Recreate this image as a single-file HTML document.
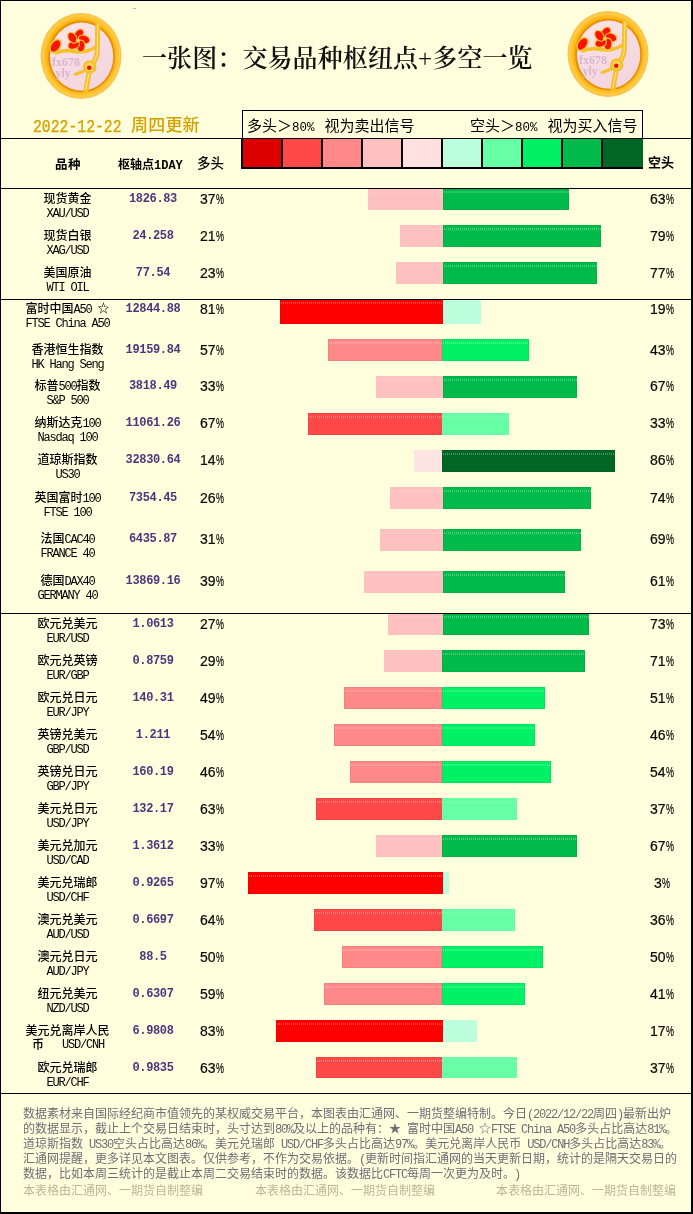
<!DOCTYPE html>
<html lang="zh-CN"><head><meta charset="utf-8"><title>一张图：交易品种枢纽点+多空一览</title>
<style>
html,body{margin:0;padding:0}
body{width:693px;height:1214px;position:relative;overflow:hidden;background:#FFFFDD;
 font-family:"Liberation Sans","WenQuanYi Zen Hei","Noto Sans CJK SC",sans-serif;color:#000}
.a{position:absolute;white-space:nowrap}
.frame{position:absolute;left:0;top:0;width:693px;height:1214px;box-sizing:border-box;
 border-left:1px solid #000;border-top:1px solid #000;border-right:2px solid #000;border-bottom:2px solid #000}
.hl{position:absolute;height:1px;background:#000}
.cn{position:absolute;white-space:nowrap;font-size:12px;line-height:14px;font-weight:500;font-family:"Liberation Sans","Noto Sans CJK SC",sans-serif;color:#000;text-align:center;width:130px;left:2.5px}
.en{position:absolute;white-space:nowrap;font-size:12px;letter-spacing:-1.2px;line-height:12px;font-family:"Liberation Mono",monospace;color:#000;text-align:center;width:130px;left:2.5px}
.pv{position:absolute;white-space:nowrap;font-size:12px;letter-spacing:-0.35px;line-height:12px;font-weight:bold;font-family:"Liberation Mono",monospace;color:#4B377D;text-align:center;width:80px;left:113px}
.pl,.ps{position:absolute;white-space:nowrap;font-size:14px;-webkit-text-stroke:0.2px #000;line-height:14px;font-family:"Liberation Sans",sans-serif;color:#0a0a0a}
.pc{display:inline-block;width:8px;transform:scaleX(0.64);transform-origin:left center}
.pl{left:200px}
.ps{left:641.8px;width:40px;text-align:center}
.sq{display:inline-block;transform:scaleX(0.86);transform-origin:left center}
.ps .sq{transform-origin:right center}
.bar{position:absolute}
.bd{box-shadow:inset 0 0 0 1px rgba(0,0,0,.05)}
.lt i{opacity:.55}
.bar i{position:absolute;left:1px;right:0;top:2px;height:2px;
 background:repeating-linear-gradient(90deg,rgba(255,255,255,.28) 0 1px,transparent 1px 2px)}
.cell{position:absolute;top:139px;height:28px;width:38px}
.ft{position:absolute;left:23px;white-space:nowrap;font-size:12px;line-height:15px;color:#6E6E78;font-family:"Liberation Sans","Noto Sans CJK SC",sans-serif}
.m{font-family:"Liberation Mono",monospace;font-size:12px;letter-spacing:-1.2px}
.cn .m{font-size:12px;letter-spacing:-1.2px;font-weight:normal}
.ft2{position:absolute;top:1184px;white-space:nowrap;font-size:12px;line-height:15px;color:#BDB597;font-family:"Liberation Sans","Noto Sans CJK SC",sans-serif}
.hb{position:absolute;white-space:nowrap;font-size:12px;line-height:14px;font-weight:bold;font-family:"Liberation Sans","Noto Sans CJK SC",sans-serif}
</style></head><body>

<svg class="a" style="left:37px;top:10px" width="88" height="92" viewBox="0 0 88 92">
<defs>
<radialGradient id="rgL" cx="50%" cy="50%" r="50%">
<stop offset="0.74" stop-color="#E08A00"/><stop offset="0.79" stop-color="#F2A200"/><stop offset="0.87" stop-color="#FFBC1E"/><stop offset="0.94" stop-color="#FFCC44"/><stop offset="1" stop-color="#F6B63C" stop-opacity="0.85"/>
</radialGradient>
<linearGradient id="pkL" x1="0" y1="0" x2="0.6" y2="1">
<stop offset="0" stop-color="#FBE5E9"/><stop offset="1" stop-color="#F3D5DE"/>
</linearGradient>
</defs>
<ellipse cx="44" cy="46" rx="40.5" ry="43" fill="url(#rgL)"/>
<ellipse cx="44.6" cy="46.6" rx="32.6" ry="35" fill="none" stroke="#E48C10" stroke-width="1.4"/>
<ellipse cx="44.6" cy="46.6" rx="31.6" ry="34" fill="url(#pkL)"/>
<path d="M61 14 C60 24 61 36 60 44 C59 50 55 54 53 60 C51 66 50 74 49 81" stroke="#F6BE28" stroke-width="5" fill="none" stroke-linecap="round"/>
<path d="M61 14 C60 24 61 36 60 44 C59 50 55 54 53 60 C51 66 50 74 49 79" stroke="#FFDC70" stroke-width="1.4" fill="none" stroke-linecap="round"/>
<path d="M57 38 C50 42 42 43 34 41 C28 40 23 41 19 43" stroke="#F6C22C" stroke-width="3.6" fill="none" stroke-linecap="round"/>
<path d="M52 58 C48 61 44 63 38 64.5" stroke="#F6C22C" stroke-width="3" fill="none" stroke-linecap="round"/>
<g transform="translate(41,30.5) rotate(8)">
<circle r="4" fill="#F6C433"/>
<g fill="#FA1400" stroke="#F6C433" stroke-width="1.1"><ellipse cx="0" cy="-6.2" rx="4.1" ry="5.9" transform="rotate(0) rotate(30 0 -6.2)"/><ellipse cx="0" cy="-6.2" rx="4.1" ry="5.9" transform="rotate(72) rotate(30 0 -6.2)"/><ellipse cx="0" cy="-6.2" rx="4.1" ry="5.9" transform="rotate(144) rotate(30 0 -6.2)"/><ellipse cx="0" cy="-6.2" rx="4.1" ry="5.9" transform="rotate(216) rotate(30 0 -6.2)"/><ellipse cx="0" cy="-6.2" rx="4.1" ry="5.9" transform="rotate(288) rotate(30 0 -6.2)"/></g>
<circle r="2" fill="#FFD850"/>
</g>
<g transform="translate(18.5,36) rotate(35)">
<ellipse rx="5.4" ry="8" fill="#F6C433"/>
<ellipse rx="3.9" ry="6.4" fill="#FA1400"/>
</g>
<g transform="translate(52.7,57)">
<circle r="6.8" fill="#F6C02E"/>
<circle r="4.2" fill="#FFD758"/>
<circle cx="-0.5" cy="0.8" r="2.2" fill="#F21000"/>
</g>
<text x="15" y="56" font-family="Liberation Serif,serif" font-size="12" font-weight="bold" fill="#D9B6CE">fx678</text>
<text x="18.5" y="66.5" font-family="Liberation Serif,serif" font-size="12" font-weight="bold" fill="#D9B6CE">yly</text>
</svg>
<svg class="a" style="left:564px;top:8px" width="88" height="92" viewBox="0 0 88 92">
<defs>
<radialGradient id="rgR" cx="50%" cy="50%" r="50%">
<stop offset="0.74" stop-color="#E08A00"/><stop offset="0.79" stop-color="#F2A200"/><stop offset="0.87" stop-color="#FFBC1E"/><stop offset="0.94" stop-color="#FFCC44"/><stop offset="1" stop-color="#F6B63C" stop-opacity="0.85"/>
</radialGradient>
<linearGradient id="pkR" x1="0" y1="0" x2="0.6" y2="1">
<stop offset="0" stop-color="#FBE5E9"/><stop offset="1" stop-color="#F3D5DE"/>
</linearGradient>
</defs>
<ellipse cx="44" cy="46" rx="40.5" ry="43" fill="url(#rgR)"/>
<ellipse cx="44.6" cy="46.6" rx="32.6" ry="35" fill="none" stroke="#E48C10" stroke-width="1.4"/>
<ellipse cx="44.6" cy="46.6" rx="31.6" ry="34" fill="url(#pkR)"/>
<path d="M61 14 C60 24 61 36 60 44 C59 50 55 54 53 60 C51 66 50 74 49 81" stroke="#F6BE28" stroke-width="5" fill="none" stroke-linecap="round"/>
<path d="M61 14 C60 24 61 36 60 44 C59 50 55 54 53 60 C51 66 50 74 49 79" stroke="#FFDC70" stroke-width="1.4" fill="none" stroke-linecap="round"/>
<path d="M57 38 C50 42 42 43 34 41 C28 40 23 41 19 43" stroke="#F6C22C" stroke-width="3.6" fill="none" stroke-linecap="round"/>
<path d="M52 58 C48 61 44 63 38 64.5" stroke="#F6C22C" stroke-width="3" fill="none" stroke-linecap="round"/>
<g transform="translate(41,30.5) rotate(8)">
<circle r="4" fill="#F6C433"/>
<g fill="#FA1400" stroke="#F6C433" stroke-width="1.1"><ellipse cx="0" cy="-6.2" rx="4.1" ry="5.9" transform="rotate(0) rotate(30 0 -6.2)"/><ellipse cx="0" cy="-6.2" rx="4.1" ry="5.9" transform="rotate(72) rotate(30 0 -6.2)"/><ellipse cx="0" cy="-6.2" rx="4.1" ry="5.9" transform="rotate(144) rotate(30 0 -6.2)"/><ellipse cx="0" cy="-6.2" rx="4.1" ry="5.9" transform="rotate(216) rotate(30 0 -6.2)"/><ellipse cx="0" cy="-6.2" rx="4.1" ry="5.9" transform="rotate(288) rotate(30 0 -6.2)"/></g>
<circle r="2" fill="#FFD850"/>
</g>
<g transform="translate(18.5,36) rotate(35)">
<ellipse rx="5.4" ry="8" fill="#F6C433"/>
<ellipse rx="3.9" ry="6.4" fill="#FA1400"/>
</g>
<g transform="translate(52.7,57)">
<circle r="6.8" fill="#F6C02E"/>
<circle r="4.2" fill="#FFD758"/>
<circle cx="-0.5" cy="0.8" r="2.2" fill="#F21000"/>
</g>
<text x="15" y="56" font-family="Liberation Serif,serif" font-size="12" font-weight="bold" fill="#D9B6CE">fx678</text>
<text x="18.5" y="66.5" font-family="Liberation Serif,serif" font-size="12" font-weight="bold" fill="#D9B6CE">yly</text>
</svg>
<div class="a" style="left:142px;top:42px;font-size:25px;letter-spacing:0.1px;line-height:34px;font-weight:600;font-family:'Liberation Serif','Noto Serif CJK SC',serif;color:#111">一张图：交易品种枢纽点<span style="font-family:'Liberation Serif',serif;font-weight:normal">+</span>多空一览</div>
<div class="a" style="left:33px;top:117px;line-height:20px;color:#D6A000"><span style="display:inline-block;font-family:'Liberation Mono',monospace;font-size:18px;-webkit-text-stroke:0.35px #D6A000;transform:scaleX(0.82);transform-origin:left center;width:89px">2022-12-22</span><span style="position:absolute;left:98px;top:0;font-family:'Liberation Sans','Noto Sans CJK SC',sans-serif;font-size:17px;font-weight:500;letter-spacing:0.2px;top:-1.5px">周四更新</span></div>
<div class="a" style="left:242px;top:110px;width:399px;height:28px;border:1px solid #000;border-bottom:0"></div>
<div class="a" style="left:247px;top:117px;font-size:15px;line-height:18px;font-family:'Liberation Sans','Noto Sans CJK SC',sans-serif">多头<span style="font-family:'Liberation Sans','Noto Sans CJK SC',sans-serif">＞</span><span style="font-family:'Liberation Mono',monospace;font-size:12.5px">80%</span><span style="margin-left:10px">视为卖出信号</span></div>
<div class="a" style="left:470px;top:117px;font-size:15px;line-height:18px;font-family:'Liberation Sans','Noto Sans CJK SC',sans-serif">空头<span style="font-family:'Liberation Sans','Noto Sans CJK SC',sans-serif">＞</span><span style="font-family:'Liberation Mono',monospace;font-size:12.5px">80%</span><span style="margin-left:10px">视为买入信号</span></div>
<div class="a" style="left:241px;top:138px;width:402px;height:31px;background:#000"></div>
<div class="cell" style="left:243px;width:38px;background:#DD0000"></div>
<div class="cell" style="left:283px;width:38px;background:#FF4848"></div>
<div class="cell" style="left:323px;width:38px;background:#FF8888"></div>
<div class="cell" style="left:363px;width:38px;background:#FFC0C0"></div>
<div class="cell" style="left:403px;width:38px;background:#FFE0E0"></div>
<div class="cell" style="left:443px;width:38px;background:#BBFFDD"></div>
<div class="cell" style="left:483px;width:38px;background:#66FFA6"></div>
<div class="cell" style="left:523px;width:38px;background:#00F066"></div>
<div class="cell" style="left:563px;width:38px;background:#00BB4A"></div>
<div class="cell" style="left:603px;width:40px;background:#006625"></div>
<div class="hl" style="left:0;top:138px;width:242px"></div>
<div class="hl" style="left:643px;top:138px;width:50px"></div>
<div class="hl" style="left:0;top:188px;width:693px"></div>
<div class="hl" style="left:0;top:299px;width:693px"></div>
<div class="hl" style="left:0;top:613px;width:693px"></div>
<div class="hl" style="left:0;top:1093px;width:693px"></div>
<div class="hb" style="left:55px;top:158px;font-size:12.5px;letter-spacing:0.5px">品种</div>
<div class="hb" style="left:118px;top:158px">枢轴点<span style="font-family:'Liberation Mono',monospace;font-size:12px">1DAY</span></div>
<div class="a" style="left:197px;top:156.5px;font-size:13.5px;line-height:14px;font-weight:500;font-family:'Liberation Sans','Noto Sans CJK SC',sans-serif">多头</div>
<div class="hb" style="left:648px;top:155.5px;font-size:13px">空头</div>
<div class="bar lt" style="left:368px;top:189px;width:75px;height:21px;background:#FFC0C0"><i style="top:2px"></i></div>
<div class="bar bd" style="left:443px;top:189px;width:126px;height:21px;background:#00BB4A"><i style="top:2px"></i></div>
<div class="cn" style="top:192px">现货黄金</div>
<div class="en" style="top:208px">XAU/USD</div>
<div class="pv" style="top:193px">1826.83</div>
<div class="pl" style="top:192px">37<span class="pc">%</span></div>
<div class="ps" style="top:192px">63<span class="pc">%</span></div>
<div class="bar lt" style="left:400px;top:225px;width:43px;height:22px;background:#FFC0C0"><i style="top:3px"></i></div>
<div class="bar bd" style="left:443px;top:225px;width:158px;height:22px;background:#00BB4A"><i style="top:3px"></i></div>
<div class="cn" style="top:229px">现货白银</div>
<div class="en" style="top:245px">XAG/USD</div>
<div class="pv" style="top:230px">24.258</div>
<div class="pl" style="top:229px">21<span class="pc">%</span></div>
<div class="ps" style="top:229px">79<span class="pc">%</span></div>
<div class="bar lt" style="left:396px;top:262px;width:47px;height:22px;background:#FFC0C0"><i style="top:3px"></i></div>
<div class="bar bd" style="left:443px;top:262px;width:154px;height:22px;background:#00BB4A"><i style="top:3px"></i></div>
<div class="cn" style="top:266px">美国原油</div>
<div class="en" style="top:282px">WTI OIL</div>
<div class="pv" style="top:267px">77.54</div>
<div class="pl" style="top:266px">23<span class="pc">%</span></div>
<div class="ps" style="top:266px">77<span class="pc">%</span></div>
<div class="bar bd" style="left:280px;top:300px;width:163px;height:24px;background:#FF0000"><i style="top:2px"></i></div>
<div class="bar lt" style="left:443px;top:300px;width:38px;height:24px;background:#BBFFDD"><i style="top:2px"></i></div>
<div class="cn" style="top:302px">富时中国<span class="m">A50 </span>☆</div>
<div class="en" style="top:318px">FTSE China A50</div>
<div class="pv" style="top:303px">12844.88</div>
<div class="pl" style="top:302px">81<span class="pc">%</span></div>
<div class="ps" style="top:302px">19<span class="pc">%</span></div>
<div class="bar bd" style="left:328px;top:339px;width:114px;height:22px;background:#FF8888"><i style="top:3px"></i></div>
<div class="bar bd" style="left:442px;top:339px;width:87px;height:22px;background:#00F066"><i style="top:3px"></i></div>
<div class="cn" style="top:343px">香港恒生指数</div>
<div class="en" style="top:359px">HK Hang Seng</div>
<div class="pv" style="top:344px">19159.84</div>
<div class="pl" style="top:343px">57<span class="pc">%</span></div>
<div class="ps" style="top:343px">43<span class="pc">%</span></div>
<div class="bar lt" style="left:376px;top:376px;width:67px;height:22px;background:#FFC0C0"><i style="top:3px"></i></div>
<div class="bar bd" style="left:443px;top:376px;width:134px;height:22px;background:#00BB4A"><i style="top:3px"></i></div>
<div class="cn" style="top:379px">标普<span class="m">500</span>指数</div>
<div class="en" style="top:395px">S&amp;P 500</div>
<div class="pv" style="top:380px">3818.49</div>
<div class="pl" style="top:379px">33<span class="pc">%</span></div>
<div class="ps" style="top:379px">67<span class="pc">%</span></div>
<div class="bar bd" style="left:308px;top:413px;width:134px;height:22px;background:#FF4848"><i style="top:3px"></i></div>
<div class="bar lt" style="left:442px;top:413px;width:67px;height:22px;background:#66FFA6"><i style="top:3px"></i></div>
<div class="cn" style="top:416px">纳斯达克<span class="m">100</span></div>
<div class="en" style="top:432px">Nasdaq 100</div>
<div class="pv" style="top:417px">11061.26</div>
<div class="pl" style="top:416px">67<span class="pc">%</span></div>
<div class="ps" style="top:416px">33<span class="pc">%</span></div>
<div class="bar lt" style="left:414px;top:450px;width:28px;height:22px;background:#FFE4E4"><i style="top:3px"></i></div>
<div class="bar bd" style="left:442px;top:450px;width:173px;height:22px;background:#006625"><i style="top:3px"></i></div>
<div class="cn" style="top:453px">道琼斯指数</div>
<div class="en" style="top:469px">US30</div>
<div class="pv" style="top:454px">32830.64</div>
<div class="pl" style="top:453px">14<span class="pc">%</span></div>
<div class="ps" style="top:453px">86<span class="pc">%</span></div>
<div class="bar lt" style="left:390px;top:487px;width:53px;height:22px;background:#FFC0C0"><i style="top:3px"></i></div>
<div class="bar bd" style="left:443px;top:487px;width:148px;height:22px;background:#00BB4A"><i style="top:3px"></i></div>
<div class="cn" style="top:491px">英国富时<span class="m">100</span></div>
<div class="en" style="top:507px">FTSE 100</div>
<div class="pv" style="top:492px">7354.45</div>
<div class="pl" style="top:491px">26<span class="pc">%</span></div>
<div class="ps" style="top:491px">74<span class="pc">%</span></div>
<div class="bar lt" style="left:380px;top:529px;width:63px;height:22px;background:#FFC0C0"><i style="top:3px"></i></div>
<div class="bar bd" style="left:443px;top:529px;width:138px;height:22px;background:#00BB4A"><i style="top:3px"></i></div>
<div class="cn" style="top:532px">法国<span class="m">CAC40</span></div>
<div class="en" style="top:548px">FRANCE 40</div>
<div class="pv" style="top:533px">6435.87</div>
<div class="pl" style="top:532px">31<span class="pc">%</span></div>
<div class="ps" style="top:532px">69<span class="pc">%</span></div>
<div class="bar lt" style="left:364px;top:571px;width:79px;height:22px;background:#FFC0C0"><i style="top:3px"></i></div>
<div class="bar bd" style="left:443px;top:571px;width:122px;height:22px;background:#00BB4A"><i style="top:3px"></i></div>
<div class="cn" style="top:574px">德国<span class="m">DAX40</span></div>
<div class="en" style="top:590px">GERMANY 40</div>
<div class="pv" style="top:575px">13869.16</div>
<div class="pl" style="top:574px">39<span class="pc">%</span></div>
<div class="ps" style="top:574px">61<span class="pc">%</span></div>
<div class="bar lt" style="left:388px;top:614px;width:55px;height:21px;background:#FFC0C0"><i style="top:2px"></i></div>
<div class="bar bd" style="left:443px;top:614px;width:146px;height:21px;background:#00BB4A"><i style="top:2px"></i></div>
<div class="cn" style="top:617px">欧元兑美元</div>
<div class="en" style="top:633px">EUR/USD</div>
<div class="pv" style="top:618px">1.0613</div>
<div class="pl" style="top:617px">27<span class="pc">%</span></div>
<div class="ps" style="top:617px">73<span class="pc">%</span></div>
<div class="bar lt" style="left:384px;top:650px;width:58px;height:22px;background:#FFC0C0"><i style="top:3px"></i></div>
<div class="bar bd" style="left:442px;top:650px;width:143px;height:22px;background:#00BB4A"><i style="top:3px"></i></div>
<div class="cn" style="top:654px">欧元兑英镑</div>
<div class="en" style="top:670px">EUR/GBP</div>
<div class="pv" style="top:655px">0.8759</div>
<div class="pl" style="top:654px">29<span class="pc">%</span></div>
<div class="ps" style="top:654px">71<span class="pc">%</span></div>
<div class="bar bd" style="left:344px;top:687px;width:98px;height:22px;background:#FF8888"><i style="top:3px"></i></div>
<div class="bar bd" style="left:442px;top:687px;width:103px;height:22px;background:#00F066"><i style="top:3px"></i></div>
<div class="cn" style="top:691px">欧元兑日元</div>
<div class="en" style="top:707px">EUR/JPY</div>
<div class="pv" style="top:692px">140.31</div>
<div class="pl" style="top:691px">49<span class="pc">%</span></div>
<div class="ps" style="top:691px">51<span class="pc">%</span></div>
<div class="bar bd" style="left:334px;top:724px;width:108px;height:22px;background:#FF8888"><i style="top:3px"></i></div>
<div class="bar bd" style="left:442px;top:724px;width:93px;height:22px;background:#00F066"><i style="top:3px"></i></div>
<div class="cn" style="top:728px">英镑兑美元</div>
<div class="en" style="top:744px">GBP/USD</div>
<div class="pv" style="top:729px">1.211</div>
<div class="pl" style="top:728px">54<span class="pc">%</span></div>
<div class="ps" style="top:728px">46<span class="pc">%</span></div>
<div class="bar bd" style="left:350px;top:761px;width:92px;height:22px;background:#FF8888"><i style="top:3px"></i></div>
<div class="bar bd" style="left:442px;top:761px;width:109px;height:22px;background:#00F066"><i style="top:3px"></i></div>
<div class="cn" style="top:765px">英镑兑日元</div>
<div class="en" style="top:781px">GBP/JPY</div>
<div class="pv" style="top:766px">160.19</div>
<div class="pl" style="top:765px">46<span class="pc">%</span></div>
<div class="ps" style="top:765px">54<span class="pc">%</span></div>
<div class="bar bd" style="left:316px;top:798px;width:126px;height:22px;background:#FF4848"><i style="top:3px"></i></div>
<div class="bar lt" style="left:442px;top:798px;width:75px;height:22px;background:#66FFA6"><i style="top:3px"></i></div>
<div class="cn" style="top:802px">美元兑日元</div>
<div class="en" style="top:818px">USD/JPY</div>
<div class="pv" style="top:803px">132.17</div>
<div class="pl" style="top:802px">63<span class="pc">%</span></div>
<div class="ps" style="top:802px">37<span class="pc">%</span></div>
<div class="bar lt" style="left:376px;top:835px;width:66px;height:22px;background:#FFC0C0"><i style="top:3px"></i></div>
<div class="bar bd" style="left:442px;top:835px;width:135px;height:22px;background:#00BB4A"><i style="top:3px"></i></div>
<div class="cn" style="top:839px">美元兑加元</div>
<div class="en" style="top:855px">USD/CAD</div>
<div class="pv" style="top:840px">1.3612</div>
<div class="pl" style="top:839px">33<span class="pc">%</span></div>
<div class="ps" style="top:839px">67<span class="pc">%</span></div>
<div class="bar bd" style="left:248px;top:872px;width:195px;height:22px;background:#FF0000"><i style="top:3px"></i></div>
<div class="bar lt" style="left:443px;top:872px;width:6px;height:22px;background:#BBFFDD"><i style="top:3px"></i></div>
<div class="cn" style="top:876px">美元兑瑞郎</div>
<div class="en" style="top:892px">USD/CHF</div>
<div class="pv" style="top:877px">0.9265</div>
<div class="pl" style="top:876px">97<span class="pc">%</span></div>
<div class="ps" style="top:876px">3<span class="pc">%</span></div>
<div class="bar bd" style="left:314px;top:909px;width:128px;height:22px;background:#FF4848"><i style="top:3px"></i></div>
<div class="bar lt" style="left:442px;top:909px;width:73px;height:22px;background:#66FFA6"><i style="top:3px"></i></div>
<div class="cn" style="top:913px">澳元兑美元</div>
<div class="en" style="top:929px">AUD/USD</div>
<div class="pv" style="top:914px">0.6697</div>
<div class="pl" style="top:913px">64<span class="pc">%</span></div>
<div class="ps" style="top:913px">36<span class="pc">%</span></div>
<div class="bar bd" style="left:342px;top:946px;width:100px;height:22px;background:#FF8888"><i style="top:3px"></i></div>
<div class="bar bd" style="left:442px;top:946px;width:101px;height:22px;background:#00F066"><i style="top:3px"></i></div>
<div class="cn" style="top:950px">澳元兑日元</div>
<div class="en" style="top:966px">AUD/JPY</div>
<div class="pv" style="top:951px">88.5</div>
<div class="pl" style="top:950px">50<span class="pc">%</span></div>
<div class="ps" style="top:950px">50<span class="pc">%</span></div>
<div class="bar bd" style="left:324px;top:983px;width:118px;height:22px;background:#FF8888"><i style="top:3px"></i></div>
<div class="bar bd" style="left:442px;top:983px;width:83px;height:22px;background:#00F066"><i style="top:3px"></i></div>
<div class="cn" style="top:987px">纽元兑美元</div>
<div class="en" style="top:1003px">NZD/USD</div>
<div class="pv" style="top:988px">0.6307</div>
<div class="pl" style="top:987px">59<span class="pc">%</span></div>
<div class="ps" style="top:987px">41<span class="pc">%</span></div>
<div class="bar bd" style="left:276px;top:1020px;width:167px;height:22px;background:#FF0000"><i style="top:3px"></i></div>
<div class="bar lt" style="left:443px;top:1020px;width:34px;height:22px;background:#BBFFDD"><i style="top:3px"></i></div>
<div class="cn" style="top:1024px">美元兑离岸人民</div>
<div class="cn" style="top:1038px;left:32px;width:auto;text-align:left">币</div>
<div class="en" style="top:1039px;left:62px;width:auto;text-align:left">USD/CNH</div>
<div class="pv" style="top:1025px">6.9808</div>
<div class="pl" style="top:1024px">83<span class="pc">%</span></div>
<div class="ps" style="top:1024px">17<span class="pc">%</span></div>
<div class="bar bd" style="left:316px;top:1057px;width:126px;height:21px;background:#FF4848"><i style="top:3px"></i></div>
<div class="bar lt" style="left:442px;top:1057px;width:75px;height:21px;background:#66FFA6"><i style="top:3px"></i></div>
<div class="cn" style="top:1061px">欧元兑瑞郎</div>
<div class="en" style="top:1077px">EUR/CHF</div>
<div class="pv" style="top:1062px">0.9835</div>
<div class="pl" style="top:1061px">63<span class="pc">%</span></div>
<div class="ps" style="top:1061px">37<span class="pc">%</span></div>
<div class="ft" style="top:1107px">数据素材来自国际经纪商市值领先的某权威交易平台，本图表由汇通网、一期货整编特制。今日<span class="m">(2022/12/22</span>周四<span class="m">)</span>最新出炉</div>
<div class="ft" style="top:1122px">的数据显示，截止上个交易日结束时，头寸达到<span class="m">80%</span>及以上的品种有：★<span class="m"> </span>富时中国<span class="m">A50 </span>☆<span class="m">FTSE China A50</span>多头占比高达<span class="m">81%</span>。</div>
<div class="ft" style="top:1137px">道琼斯指数<span class="m"> US30</span>空头占比高达<span class="m">86%</span>。美元兑瑞郎<span class="m"> USD/CHF</span>多头占比高达<span class="m">97%</span>。美元兑离岸人民币<span class="m"> USD/CNH</span>多头占比高达<span class="m">83%</span>。</div>
<div class="ft" style="top:1152px">汇通网提醒，更多详见本文图表。仅供参考，不作为交易依据。<span class="m">(</span>更新时间指汇通网的当天更新日期，统计的是隔天交易日的</div>
<div class="ft" style="top:1167px">数据，比如本周三统计的是截止本周二交易结束时的数据。该数据比<span class="m">CFTC</span>每周一次更为及时。<span class="m" style="margin-left:5px">)</span></div>
<div class="ft2" style="left:23px">本表格由汇通网、一期货自制整编</div>
<div class="ft2" style="left:255px">本表格由汇通网、一期货自制整编</div>
<div class="ft2" style="left:496px">本表格由汇通网、一期货自制整编</div>
<div class="a" style="left:133px;top:8px;width:3px;height:1px;background:#B4B4DC"></div>
<div class="frame"></div>
</body></html>
